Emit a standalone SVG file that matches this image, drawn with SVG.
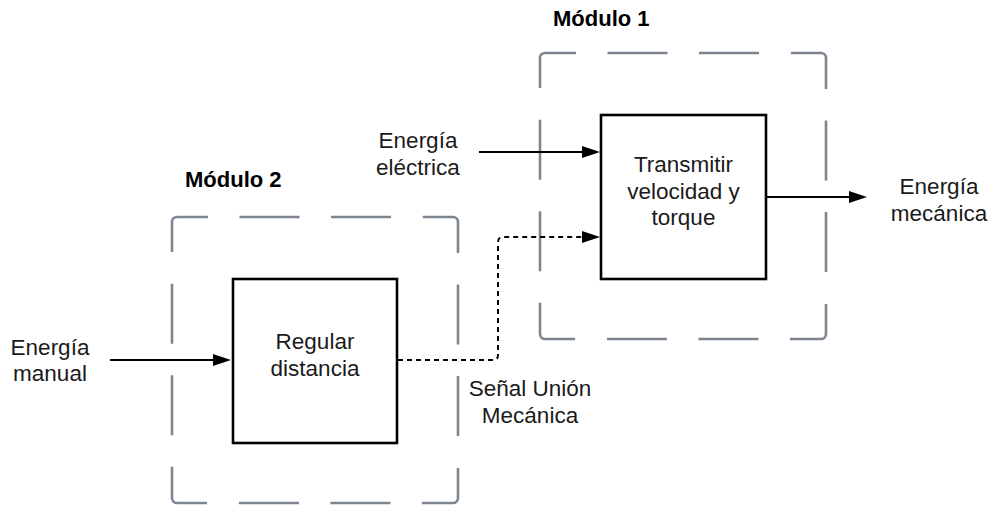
<svg xmlns="http://www.w3.org/2000/svg" width="993" height="506" viewBox="0 0 993 506">
<defs>
<style>
.mod{fill:none;stroke:#7d8591;stroke-width:2.6;stroke-dasharray:68.85 31.5 60 31.5 60 31.85;stroke-dashoffset:37.85}
.box{fill:#ffffff;stroke:#000000;stroke-width:2.6}
.t{font-family:"Liberation Sans",Arial,Helvetica,sans-serif;font-size:22.5px;fill:#1a1a1a;text-anchor:middle}
.h{font-family:"Liberation Sans",Arial,Helvetica,sans-serif;font-size:22px;font-weight:bold;fill:#000000}
.c{fill:none;stroke:#000000;stroke-width:2}
.d{fill:none;stroke:#000000;stroke-width:2;stroke-dasharray:5 4}
</style>
<marker id="ah" markerUnits="userSpaceOnUse" viewBox="0 -6 18 12" refX="0" refY="0" markerWidth="18" markerHeight="12" orient="auto" overflow="visible">
<path d="M0,-6 L18,0 L0,6 Z" fill="#000000" stroke="none"/>
</marker>
</defs>
<rect width="993" height="506" fill="#ffffff"/>

<g id="modulo1">
<rect class="mod" x="540" y="53" width="286" height="286" rx="5" ry="5"/>
<text class="h" x="553" y="26">Módulo 1</text>
</g>

<g id="modulo2">
<rect class="mod" x="172" y="217" width="286" height="286" rx="5" ry="5"/>
<text class="h" x="185" y="187">Módulo 2</text>
</g>

<g id="connectors">
<path class="c" d="M110,360 H213" marker-end="url(#ah)"/>
<path class="c" d="M479,152 H582" marker-end="url(#ah)"/>
<path class="c" d="M766,197 H849" marker-end="url(#ah)"/>
<path class="d" d="M398,360 H493 Q498,360 498,355 V242 Q498,237 503,237 H582" marker-end="url(#ah)"/>
</g>

<g id="regular-distancia">
<rect class="box" x="233" y="279" width="164" height="164"/>
<text class="t" x="315" y="349">Regular</text>
<text class="t" x="315" y="376">distancia</text>
</g>

<g id="transmitir">
<rect class="box" x="601" y="115" width="165" height="164"/>
<text class="t" x="683.5" y="172">Transmitir</text>
<text class="t" x="683.5" y="199">velocidad y</text>
<text class="t" x="683.5" y="225">torque</text>
</g>

<g id="energia-manual">
<text class="t" x="50" y="355">Energía</text>
<text class="t" x="50" y="381">manual</text>
</g>

<g id="energia-electrica">
<text class="t" x="418" y="148">Energía</text>
<text class="t" x="418" y="175">eléctrica</text>
</g>

<g id="energia-mecanica">
<text class="t" x="939" y="194">Energía</text>
<text class="t" x="939" y="221">mecánica</text>
</g>

<g id="senal-union">
<text class="t" x="530" y="396">Señal Unión</text>
<text class="t" x="530" y="423">Mecánica</text>
</g>
</svg>
